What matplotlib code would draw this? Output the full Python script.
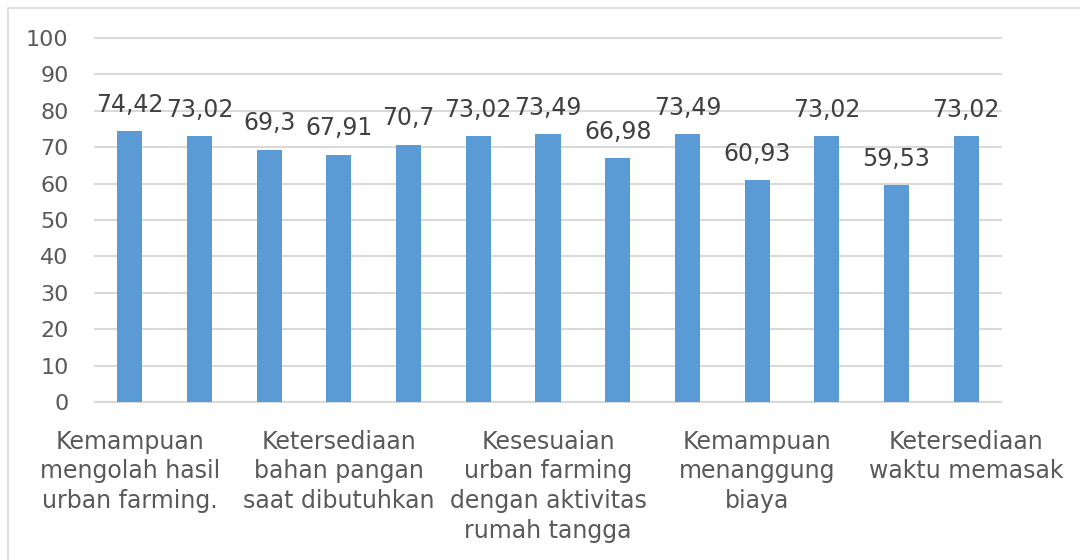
import matplotlib.pyplot as plt
from matplotlib.patches import Rectangle
import numpy as np

values = [74.42, 73.02, 69.3, 67.91, 70.7, 73.02, 73.49, 66.98, 73.49, 60.93, 73.02, 59.53, 73.02]
value_labels = ['74,42', '73,02', '69,3', '67,91', '70,7', '73,02', '73,49',
                '66,98', '73,49', '60,93', '73,02', '59,53', '73,02']
tick_labels = ['Kemampuan\nmengolah hasil\nurban farming.',
               'Ketersediaan\nbahan pangan\nsaat dibutuhkan',
               'Kesesuaian\nurban farming\ndengan aktivitas\nrumah tangga',
               'Kemampuan\nmenanggung\nbiaya',
               'Ketersediaan\nwaktu memasak']
tick_index = [0, 3, 6, 9, 12]

plt.rcParams['font.family'] = ['DejaVu Sans']
txt = '#595959'
grid = '#d9d9d9'
fs = 17

fig = plt.figure(figsize=(10.8, 5.6), dpi=100)
ax = fig.add_axes([95/1080, 1 - 402/560, 906/1080, 364/560])

# outer chart frame
fig.patches.append(Rectangle((8/1080, -0.1), 1.2, 1.1 - 8/560, transform=fig.transFigure,
                             fill=False, edgecolor=grid, lw=1.2))

x = np.arange(len(values))
ax.bar(x, values, width=0.36, color='#5b9bd5', zorder=3)
for xi, v, s in zip(x, values, value_labels):
    ax.text(xi, v + 4.0, s, ha='center', va='bottom', fontsize=fs, color='#404040')

ax.set_xlim(-0.5, len(values) - 0.5)
ax.set_ylim(0, 100)
ax.set_yticks(range(0, 101, 10))
ax.yaxis.grid(True, color=grid, lw=1.5, zorder=0)
for gl in ax.get_ygridlines():
    gl.set_clip_on(False)
ax.set_xticks(tick_index)
ax.set_xticklabels(tick_labels, fontsize=fs, color=txt, linespacing=1.3, va='top')
ax.tick_params(axis='y', labelsize=16, labelcolor=txt, length=0, pad=19)
ax.tick_params(axis='x', length=0, pad=20)
for side in ['top', 'right', 'left']:
    ax.spines[side].set_visible(False)
ax.spines['bottom'].set_color(grid)
ax.spines['bottom'].set_linewidth(1.5)

fig.savefig('out.png', dpi=100)
